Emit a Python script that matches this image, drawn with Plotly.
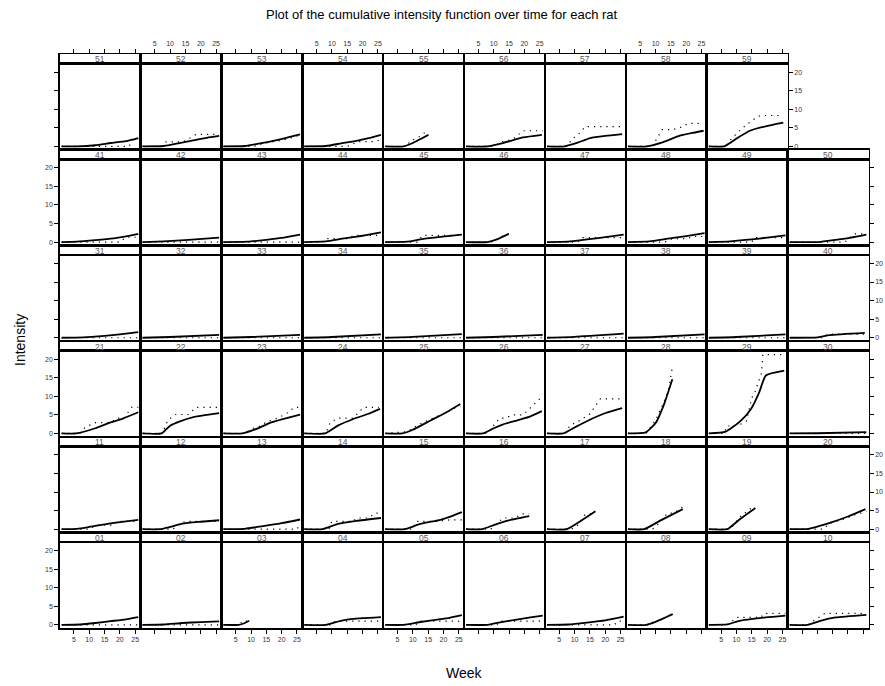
import plotly.graph_objects as go

# ---------------- data ----------------
rat_ids = [f"{i:02d}" for i in range(1, 60)]
x_ticks = [5, 10, 15, 20, 25]
y_ticks = [0, 5, 10, 15, 20]
x_range = [0.3, 26.7]
y_range = [-0.9, 22.3]

# fitted cumulative intensity (solid line)
fit_weeks = {
    "01": [1, 7, 12, 17, 22, 26], "02": [1, 8, 14, 20, 26], "03": [1, 6, 8, 9.4],
    "04": [1, 8, 11, 14, 20, 26], "05": [1, 7, 12, 18, 22, 26], "06": [1, 8, 13, 18, 22, 26],
    "07": [1, 8, 14, 20, 26], "08": [1, 7, 10, 13, 15.6], "09": [1, 7, 11, 19.6, 26],
    "10": [1, 6.8, 11, 16, 26],
    "11": [1, 6, 10, 15, 20, 26], "12": [1, 6.7, 10, 14, 20, 26], "13": [1, 8, 14, 20, 26],
    "14": [1, 6.9, 12, 18, 26], "15": [1, 7.4, 12.4, 19, 22, 26], "16": [1, 6.2, 10, 14.6, 21.6],
    "17": [1, 7.5, 12, 16.8], "18": [1, 6.3, 12, 18.9], "19": [1, 7, 11, 16.2],
    "20": [1, 7, 14.8, 20, 25.7],
    "21": [1, 5.7, 12, 17, 21, 26], "22": [1, 7.2, 10, 13, 17.6, 22, 26],
    "23": [1, 7.2, 12, 16.4, 21, 26], "24": [1, 7.7, 11.9, 17, 22, 25.7],
    "25": [1, 6.5, 10, 15.8, 21, 25.5], "26": [1, 6.5, 10, 12.9, 18, 22, 25.7],
    "27": [1, 6.3, 10, 15.1, 20.1, 25.5], "28": [1, 6.8, 10.1, 12.8, 15.5],
    "29": [1, 6.5, 11.4, 14.7, 17.4, 19.6, 25.6], "30": [1, 10, 26],
    "31": [1, 8, 15, 20, 26], "32": [1, 10, 26], "33": [1, 10, 26], "34": [1, 10, 26],
    "35": [1, 10, 26], "36": [1, 10, 26], "37": [1, 10, 26], "38": [1, 10, 26],
    "39": [1, 10, 26], "40": [1, 10.2, 14, 25.5],
    "41": [1, 6, 12, 18, 22, 26], "42": [1, 8, 16, 26], "43": [1, 9, 15, 20, 26],
    "44": [1, 8, 14, 20, 26], "45": [1, 8, 13, 19, 26], "46": [1, 7.9, 11, 14.9],
    "47": [1, 8, 14, 20, 26], "48": [1, 8, 14, 20, 26], "49": [1, 8, 15, 20, 26],
    "50": [1, 10.4, 16, 21, 26],
    "51": [1, 6, 12, 17, 22, 26], "52": [1, 8, 13, 18, 22, 26], "53": [1, 8, 13, 18, 22, 26],
    "54": [1, 8, 13, 18, 22, 26], "55": [1, 7, 10, 13, 15.1], "56": [1, 7.9, 13, 19.6, 25.7],
    "57": [1, 6.7, 11, 15.1, 20, 25.5], "58": [1, 7.2, 12, 17.3, 22, 25.7],
    "59": [1, 6, 10.2, 14.4, 19.5, 25.3],
}
fit_values = {
    "01": [0, 0.1, 0.5, 1.0, 1.5, 2.1], "02": [0, 0.1, 0.5, 0.75, 0.95], "03": [0, 0, 0.5, 1.1],
    "04": [0, 0, 0.7, 1.3, 1.8, 2.1], "05": [0, 0, 0.7, 1.4, 1.9, 2.6], "06": [0, 0, 0.8, 1.5, 2.0, 2.5],
    "07": [0, 0.1, 0.6, 1.2, 2.2], "08": [0, 0, 0.8, 1.9, 2.9], "09": [0, 0.1, 1.1, 2.0, 2.5],
    "10": [0, 0, 1.1, 2.0, 2.7],
    "11": [0, 0.1, 0.6, 1.3, 1.9, 2.5], "12": [0, 0, 0.6, 1.5, 2.0, 2.4], "13": [0, 0.1, 0.8, 1.6, 2.6],
    "14": [0, 0, 1.4, 2.2, 3.0], "15": [0, 0, 1.4, 2.5, 3.3, 4.6], "16": [0, 0, 1.1, 2.3, 3.5],
    "17": [0, 0, 2.2, 4.8], "18": [0, 0, 2.5, 5.4], "19": [0, 0, 2.6, 5.7],
    "20": [0, 0.1, 1.9, 3.4, 5.4],
    "21": [0, 0, 1.4, 3.0, 4.0, 5.7], "22": [0, 0, 2.1, 3.2, 4.4, 5.0, 5.5],
    "23": [0, 0, 1.3, 2.9, 4.0, 5.1], "24": [0, 0, 2.1, 3.9, 5.3, 6.6],
    "25": [0, 0, 1.0, 3.5, 5.7, 7.9], "26": [0, 0, 1.4, 2.4, 3.6, 4.6, 6.0],
    "27": [0, 0, 1.6, 3.75, 5.5, 6.8], "28": [0, 0.3, 2.9, 7.9, 14.6],
    "29": [0, 0.5, 3.4, 6.5, 11.0, 15.6, 16.9], "30": [0, 0.05, 0.35],
    "31": [0, 0.1, 0.5, 0.9, 1.5], "32": [0, 0.2, 0.8], "33": [0, 0.2, 0.8], "34": [0, 0.2, 0.9],
    "35": [0, 0.25, 1.0], "36": [0, 0.2, 0.8], "37": [0, 0.25, 1.1], "38": [0, 0.2, 0.9],
    "39": [0, 0.2, 0.9], "40": [0, 0.1, 0.7, 1.3],
    "41": [0, 0.1, 0.5, 1.0, 1.5, 2.2], "42": [0, 0.2, 0.6, 1.2], "43": [0, 0.1, 0.6, 1.1, 2.0],
    "44": [0, 0.2, 1.0, 1.7, 2.6], "45": [0, 0.1, 0.8, 1.4, 2.0], "46": [0, 0, 0.7, 2.2],
    "47": [0, 0.1, 0.7, 1.3, 2.0], "48": [0, 0.2, 0.9, 1.6, 2.4], "49": [0, 0.2, 0.7, 1.2, 1.8],
    "50": [0, 0, 0.6, 1.2, 2.0],
    "51": [0, 0, 0.3, 0.9, 1.4, 2.2], "52": [0, 0.1, 0.9, 1.7, 2.3, 2.8], "53": [0, 0.1, 0.8, 1.6, 2.4, 3.2],
    "54": [0, 0.1, 0.8, 1.5, 2.2, 3.1], "55": [0, 0, 0.9, 2.2, 3.1], "56": [0, 0, 0.9, 2.4, 3.1],
    "57": [0, 0, 1.0, 2.2, 2.8, 3.3], "58": [0, 0, 1.0, 2.7, 3.6, 4.2],
    "59": [0, 0, 2.2, 4.2, 5.4, 6.4],
}

# observed cumulative counts (dotted line)
obs_weeks = {
    "01": [1, 26], "02": [1, 26], "03": [1, 6.5, 7, 9.2],
    "04": [1, 10, 11, 26], "05": [1, 11, 12, 25, 26], "06": [1, 11, 12, 22, 26],
    "07": [1, 23, 24, 26], "08": [1, 8, 9, 13, 15.6], "09": [1, 7, 8.8, 10, 18, 19, 26],
    "10": [1, 7, 9, 10.5, 12.5, 26],
    "11": [1, 10, 12.4, 18, 19, 26], "12": [1, 11, 12, 15, 26], "13": [1, 25, 26],
    "14": [1, 9, 10, 17, 18, 22, 24, 26], "15": [1, 10, 11, 18, 22, 26],
    "16": [1, 9, 10.4, 13, 17, 19, 21.6], "17": [1, 9, 10.9, 13.4, 16],
    "18": [1, 9, 10.5, 13.9, 16, 18.9], "19": [1, 8, 11, 14.4, 16],
    "20": [1, 12, 14, 19, 22, 26],
    "21": [1, 7, 8.7, 12, 17, 18.8, 21.3, 23.8, 26], "22": [1, 7.5, 9.2, 11.7, 15.9, 18.4, 26],
    "23": [1, 8, 10, 13, 14.8, 18, 21.5, 24, 26], "24": [1, 8, 9.4, 11.9, 16.9, 20.3, 25.3],
    "25": [1, 8, 13.2, 17, 21, 24, 25.5], "26": [1, 8, 10.4, 12, 13.7, 16.2, 19.6, 22.1, 25],
    "27": [1, 7, 8.4, 11.7, 15, 18.4, 25, 25.5], "28": [1, 7, 7.9, 10, 13.3, 14.4, 15.5],
    "29": [1, 6, 6.8, 8.9, 11.4, 13.3, 15, 16, 18.2, 18.6, 25.6], "30": [1, 26],
    "31": [1, 26], "32": [1, 26], "33": [1, 26], "34": [1, 26], "35": [1, 26],
    "36": [1, 26], "37": [1, 26], "38": [1, 26], "39": [1, 26], "40": [1, 12, 13.4, 26],
    "41": [1, 20, 22, 26], "42": [1, 26], "43": [1, 26],
    "44": [1, 7, 7.7, 15.3, 17, 24.5, 26], "45": [1, 11.5, 13.2, 26], "46": [1, 9, 10.4, 13.7, 14.9],
    "47": [1, 11, 12.6, 26], "48": [1, 13, 15.5, 20.5, 22, 26], "49": [1, 15, 16, 26],
    "50": [1, 19, 22, 26],
    "51": [1, 23, 24.5, 26], "52": [1, 7, 8.4, 12.6, 15, 18.4, 26], "53": [1, 11, 14, 20, 26],
    "54": [1, 15, 18.6, 24.5, 26], "55": [1, 8, 9, 12.4, 14.7], "56": [1, 10, 12.9, 16, 19.6, 26],
    "57": [1, 7.5, 9.2, 11.7, 13.4, 25], "58": [1, 9, 10.5, 12.2, 15.6, 19, 20.6, 25],
    "59": [1, 6.5, 8.5, 11.9, 15.3, 17.8, 23.6, 24.5],
}
obs_values = {
    "01": [0, 0], "02": [0, 0], "03": [0, 0, 1.0, 1.0],
    "04": [0, 0, 1, 1], "05": [0, 0, 1, 1, 2], "06": [0, 0, 1, 1, 1],
    "07": [0, 0, 1, 1], "08": [0, 0, 0.7, 1.8, 3.0], "09": [0, 0, 1.1, 2, 2, 3.1, 3.1],
    "10": [0, 0, 1.2, 2, 3.1, 3.1],
    "11": [0, 0, 1.1, 1.1, 2.1, 2.1], "12": [0, 0, 1, 2.1, 2.1], "13": [0, 0, 1.2],
    "14": [0, 0, 2.1, 2.1, 3, 3, 4.3, 4.3], "15": [0, 0, 2.1, 2.1, 2.5, 2.5],
    "16": [0, 0, 1, 3, 3, 4.1, 4.1], "17": [0, 0, 1, 3.9, 4.3],
    "18": [0, 0, 1, 4.3, 4.3, 6], "19": [0, 0, 3.2, 5.4, 6.1],
    "20": [0, 0, 1.6, 2.8, 3.8, 4.8],
    "21": [0, 0, 1.7, 2.9, 2.9, 4.1, 4.1, 7, 7], "22": [0, 0, 3.5, 5.1, 5.1, 7, 7],
    "23": [0, 0, 1.2, 2, 3, 3.9, 5.3, 7, 7], "24": [0, 0, 2.9, 4.1, 4.1, 7, 7],
    "25": [0, 0.5, 2.9, 4.2, 5.7, 7, 7.3], "26": [0, 0, 2.6, 4.1, 4.1, 5, 5, 7, 9.3],
    "27": [0, 0, 2.1, 3.5, 5.3, 9.3, 9.3, 10], "28": [0, 0, 1.2, 3.5, 9.6, 12.3, 17.9],
    "29": [0, 0, 2, 2, 2.5, 3.4, 9.6, 11, 16.3, 21.2, 21.2], "30": [0, 0],
    "31": [0, 0], "32": [0, 0], "33": [0, 0], "34": [0, 0], "35": [0, 0],
    "36": [0, 0], "37": [0, 0], "38": [0, 0], "39": [0, 0], "40": [0, 0, 1.0, 1.0],
    "41": [0, 0, 1.3, 1.3], "42": [0, 0], "43": [0, 0],
    "44": [0, 0, 0.9, 0.9, 1.8, 1.8, 2.4], "45": [0, 0, 1.8, 1.8], "46": [0, 0, 0.3, 2, 2.2],
    "47": [0, 0, 1.2, 1.2], "48": [0, 0, 0.9, 0.9, 1.5, 1.5], "49": [0, 0, 1.2, 1.2],
    "50": [0, 0, 2.2, 2.2],
    "51": [0, 0, 2, 2], "52": [0, 0, 1.2, 1.2, 1.5, 3.2, 3.2], "53": [0, 0, 0.8, 1.6, 3.0],
    "54": [0, 0, 1.3, 1.3, 2.0], "55": [0, 0, 1.3, 2.7, 4.3], "56": [0, 0, 1.3, 1.8, 4.2, 4.2],
    "57": [0, 0, 2, 3.6, 5.3, 5.3], "58": [0, 0, 2.2, 4.5, 4.5, 5.3, 6.2, 6.2],
    "59": [0, 0, 2.2, 4.9, 7.1, 8.3, 8.3, 9.4],
}

# ---------------- layout geometry (pixels) ----------------
W, H = 885, 686
X0, PW = 59.5, 80.9
TOP, RH, SH = 54.0, 95.7, 9.5
FONT = "Liberation Sans, Arial, Helvetica, sans-serif"
TICKFONT = dict(family=FONT, size=7, color="#333333")
LW = 1.3


def ax_name(kind, n):
    return kind + "axis" + ("" if n == 1 else str(n))


def ref(kind, n):
    return kind + ("" if n == 1 else str(n))


fig = go.Figure()
layout = {}
annotations = []
N = len(rat_ids)

for idx, rid in enumerate(rat_ids):
    k = idx + 1
    r, c = idx // 10, idx % 10
    left = X0 + c * PW
    right = left + PW
    strip_top = TOP + (5 - r) * RH
    body_top = strip_top + SH
    body_bot = strip_top + RH
    xd = [left / W, right / W]

    is_left = c == 0
    is_right = (c == 9) or (r == 5 and c == 8)

    # data panel
    layout[ax_name("x", k)] = dict(
        domain=xd, anchor=ref("y", k), range=x_range, showgrid=False, zeroline=False,
        showline=True, mirror=True, linecolor="black", linewidth=LW,
        ticks="outside" if r == 0 else "", tickvals=x_ticks, ticklen=4, tickwidth=1,
        tickcolor="black", showticklabels=(r == 0 and c % 2 == 0), tickfont=TICKFONT,
        fixedrange=True,
    )
    layout[ax_name("y", k)] = dict(
        domain=[1 - body_bot / H, 1 - body_top / H], anchor=ref("x", k), range=y_range,
        showgrid=False, zeroline=False, showline=True, mirror=True, linecolor="black",
        linewidth=LW, side="right" if is_right else "left",
        ticks="outside" if (is_left or is_right) else "", tickvals=y_ticks, ticklen=4,
        tickwidth=1, tickcolor="black",
        showticklabels=(is_left and r % 2 == 0) or (is_right and r % 2 == 1),
        tickfont=TICKFONT, fixedrange=True,
    )
    # strip panel
    s = N + k
    layout[ax_name("x", s)] = dict(
        domain=xd, anchor=ref("y", s), range=x_range, showgrid=False, zeroline=False,
        showline=True, mirror=True, linecolor="black", linewidth=LW,
        side="top", ticks="outside" if r == 5 else "", tickvals=x_ticks, ticklen=4,
        tickwidth=1, tickcolor="black", showticklabels=(r == 5 and c % 2 == 1),
        tickfont=TICKFONT, fixedrange=True,
    )
    layout[ax_name("y", s)] = dict(
        domain=[1 - (strip_top + SH) / H, 1 - strip_top / H], anchor=ref("x", s),
        range=[0, 1], showgrid=False, zeroline=False, showline=True, mirror=True,
        linecolor="black", linewidth=LW, ticks="", showticklabels=False, fixedrange=True,
    )
    # invisible placeholder so the strip subplot gets drawn
    fig.add_trace(go.Scatter(
        x=[x_range[0]], y=[0.5], mode="lines", line=dict(width=0),
        xaxis=ref("x", s), yaxis=ref("y", s), hoverinfo="skip",
    ))
    annotations.append(dict(
        x=(left + right) / 2 / W, y=1 - (strip_top + SH / 2 + 0.7) / H, xref="paper",
        yref="paper", text=rid, showarrow=False, xanchor="center", yanchor="middle",
        font=dict(family=FONT, size=8.5, color="#555555"),
    ))

    fig.add_trace(go.Scatter(
        x=obs_weeks[rid], y=obs_values[rid], mode="lines",
        line=dict(color="black", width=1.2, dash="1.2px,5px"),
        xaxis=ref("x", k), yaxis=ref("y", k), hoverinfo="skip",
    ))
    fig.add_trace(go.Scatter(
        x=fit_weeks[rid], y=fit_values[rid], mode="lines",
        line=dict(color="black", width=1.8, shape="spline", smoothing=0.5),
        xaxis=ref("x", k), yaxis=ref("y", k), hoverinfo="skip",
    ))

annotations += [
    dict(x=441.5 / W, y=1 - 14 / H, xref="paper", yref="paper",
         text="Plot of the cumulative intensity function over time for each rat",
         showarrow=False, xanchor="center", yanchor="middle",
         font=dict(family=FONT, size=13, color="black")),
    dict(x=464 / W, y=1 - 673 / H, xref="paper", yref="paper", text="Week",
         showarrow=False, xanchor="center", yanchor="middle",
         font=dict(family=FONT, size=14, color="black")),
    dict(x=20 / W, y=1 - 340 / H, xref="paper", yref="paper", text="Intensity",
         showarrow=False, xanchor="center", yanchor="middle", textangle=-90,
         font=dict(family=FONT, size=14, color="black")),
]

fig.update_layout(
    template="none", width=W, height=H, margin=dict(l=0, r=0, t=0, b=0, pad=0),
    paper_bgcolor="white", plot_bgcolor="white", showlegend=False, hovermode=False,
    font=dict(family=FONT, size=8, color="black"), annotations=annotations, **layout,
)

fig.write_html("out.html", config={"displayModeBar": False, "staticPlot": True},
               post_script="document.body.style.margin='0px';")
